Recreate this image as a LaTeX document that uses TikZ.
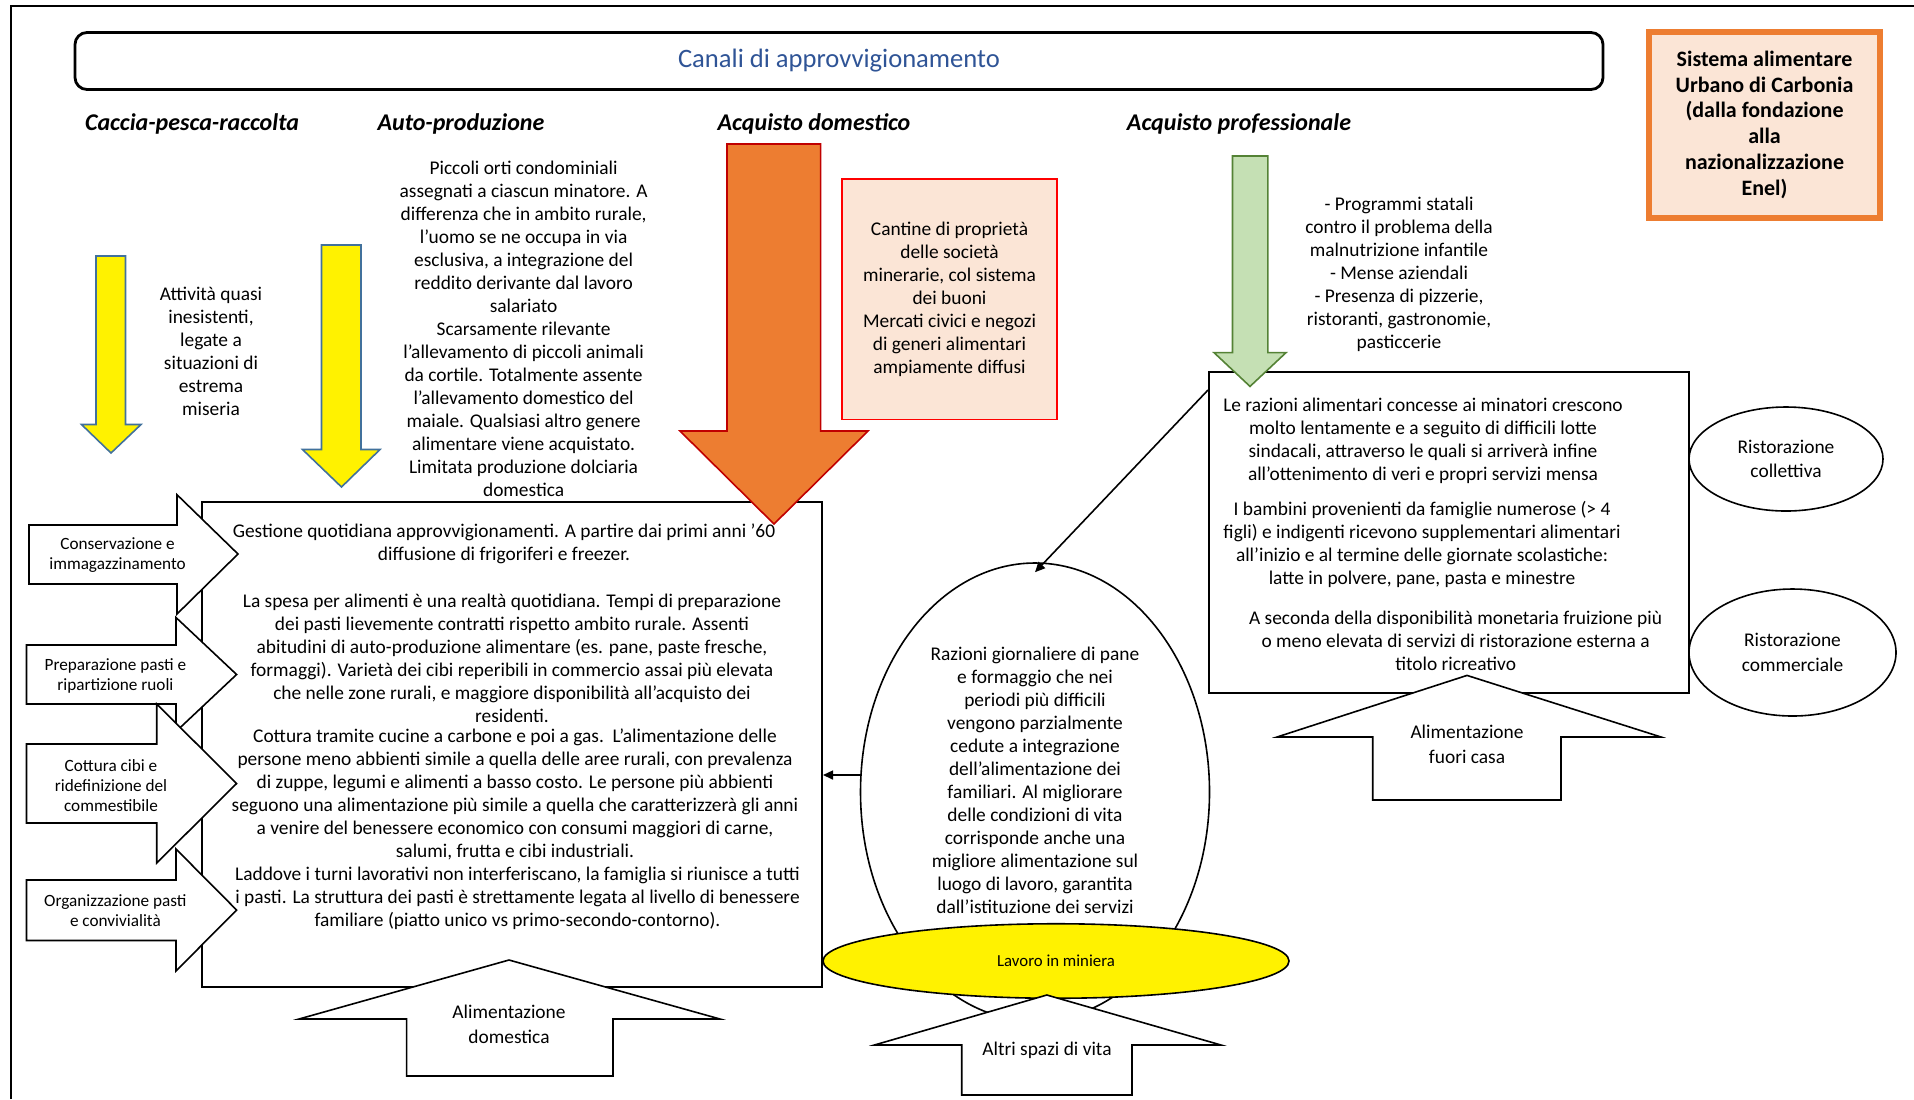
\documentclass[tikz,border=0pt]{standalone}
\usepackage{fontspec}
\setmainfont{Carlito}
\usetikzlibrary{shapes.geometric,arrows.meta}

\definecolor{titleblue}{RGB}{47,84,150}
\definecolor{yellowedge}{RGB}{65,113,156}
\definecolor{orangefill}{RGB}{237,125,49}
\definecolor{orangeedge}{RGB}{192,0,0}
\definecolor{pinkfill}{RGB}{251,229,214}
\definecolor{greenfill}{RGB}{197,224,180}
\definecolor{greenedge}{RGB}{84,130,53}

\begin{document}
\begin{tikzpicture}[x=0.5pt,y=-0.5pt,>={Triangle[length=5pt,width=4.5pt]},
  txt/.style={align=center,inner sep=0pt,font=\fontsize{9.7}{11.5}\selectfont},
  smalltxt/.style={align=center,inner sep=0pt,font=\fontsize{8.6}{10}\selectfont},
  bigtxt/.style={align=center,inner sep=0pt,font=\fontsize{9.7}{12.4}\selectfont},
  heading/.style={inner sep=0pt,font=\fontsize{12}{14}\selectfont\bfseries\itshape},
  yarrow/.style={draw=yellowedge,fill=yellow,line width=0.8pt},
  block/.style={draw=black,fill=white,line width=0.8pt},
  oval/.style={shape=ellipse,draw=black,fill=white,line width=0.8pt,inner sep=0pt}]

\useasboundingbox (0,0) rectangle (1914,1099);
\draw[line width=0.8pt] (11,1099) -- (11,6) -- (1914,6);

\node[draw=black,line width=1.4pt,rounded corners=6pt,minimum width=764pt,minimum height=28.5pt,text=titleblue,font=\fontsize{13.3}{15}\selectfont] (CA) at (839,61) {Canali di approvvigionamento};

\node[heading] (CP) at (192,124) {Caccia-pesca-raccolta};
\node[heading] (AP) at (461,124) {Auto-produzione};
\node[heading] (AD) at (814,124) {Acquisto domestico};
\node[heading] (APR) at (1239,124) {Acquisto professionale};

\node[draw=orangefill,fill=pinkfill,line width=3pt,minimum width=115.5pt,minimum height=92.75pt,align=center,font=\fontsize{11}{12.9}\selectfont\bfseries] (SA) at (1764.5,124.75) {Sistema alimentare\\Urbano di Carbonia\\(dalla fondazione\\alla\\nazionalizzazione\\Enel)};

% caccia / auto-produzione
\draw[yarrow] (96,256) -- (125.5,256) -- (125.5,424.5) -- (141,424.5) -- (111,453) -- (81.5,424.5) -- (96,424.5) -- cycle;
\node[txt] (CPt) at (211,351) {Attività quasi\\inesistenti,\\legate a\\situazioni di\\estrema\\miseria};
\draw[yarrow] (321.5,245) -- (361,245) -- (361,449.5) -- (380,449.5) -- (341.5,487) -- (302.5,449.5) -- (321.5,449.5) -- cycle;
\node[txt] (APt) at (523.6,329.3) {Piccoli orti condominiali\\assegnati a ciascun minatore. A\\differenza che in ambito rurale,\\l’uomo se ne occupa in via\\esclusiva, a integrazione del\\reddito derivante dal lavoro\\salariato\\Scarsamente rilevante\\l’allevamento di piccoli animali\\da cortile. Totalmente assente\\l’allevamento domestico del\\maiale. Qualsiasi altro genere\\alimentare viene acquistato.\\Limitata produzione dolciaria\\domestica};

% alimentazione domestica
\node[draw=black,line width=1pt,minimum width=310pt,minimum height=242.5pt] (MB) at (512,744.5) {};
\draw[draw=orangeedge,fill=orangefill,line width=0.8pt] (727,144) -- (820.6,144) -- (820.6,431) -- (868,431) -- (774,524) -- (680,431) -- (727,431) -- cycle;
\node[draw=red,fill=pinkfill,line width=0.8pt,minimum width=107.5pt,minimum height=120.3pt,txt] (CN) at (949.5,299.3) {Cantine di proprietà\\delle società\\minerarie, col sistema\\dei buoni\\Mercati civici e negozi\\di generi alimentari\\ampiamente diffusi};

\draw[block] (29,525) -- (177,525) -- (177,494.7) -- (238,554) -- (177,614) -- (177,584) -- (29,584) -- cycle;
\draw[block] (26.5,645) -- (176,645) -- (176,617.5) -- (236.6,674.5) -- (176,731.5) -- (176,704) -- (26.5,704) -- cycle;
\draw[block] (26.5,744) -- (156.7,744) -- (156.7,704) -- (236.6,783.5) -- (156.7,863) -- (156.7,823) -- (26.5,823) -- cycle;
\draw[block] (26.5,880) -- (176,880) -- (176,849) -- (236.6,910) -- (176,971) -- (176,940.5) -- (26.5,940.5) -- cycle;
\node[smalltxt] (CO) at (117.5,554.7) {Conservazione e\\immagazzinamento};
\node[smalltxt] (PR) at (115.4,676.4) {Preparazione pasti e\\ripartizione ruoli};
\node[smalltxt] (CT) at (111,785.8) {Cottura cibi e\\ridefinizione del\\commestibile};
\node[smalltxt] (OR) at (115.4,911) {Organizzazione pasti\\e convivialità};

\draw[block] (406.6,1076) -- (406.6,1019) -- (299,1019) -- (509,960) -- (720,1019) -- (613,1019) -- (613,1076) -- cycle;
\node[bigtxt] (ADt) at (509,1024) {Alimentazione\\domestica};

\node[txt] (MB1) at (504,543.9) {Gestione quotidiana approvvigionamenti. A partire dai primi anni ’60\\diffusione di frigoriferi e freezer.};
\node[txt] (MB2) at (512,658.7) {La spesa per alimenti è una realtà quotidiana. Tempi di preparazione\\dei pasti lievemente contratti rispetto ambito rurale. Assenti\\abitudini di auto-produzione alimentare (es. pane, paste fresche,\\formaggi). Varietà dei cibi reperibili in commercio assai più elevata\\che nelle zone rurali, e maggiore disponibilità all’acquisto dei\\residenti.};
\node[txt] (MB3) at (515,794.5) {Cottura tramite cucine a carbone e poi a gas.\ \ L’alimentazione delle\\persone meno abbienti simile a quella delle aree rurali, con prevalenza\\di zuppe, legumi e alimenti a basso costo. Le persone più abbienti\\seguono una alimentazione più simile a quella che caratterizzerà gli anni\\a venire del benessere economico con consumi maggiori di carne,\\salumi, frutta e cibi industriali.};
\node[txt] (MB4) at (517.5,898.5) {Laddove i turni lavorativi non interferiscano, la famiglia si riunisce a tutti\\i pasti. La struttura dei pasti è strettamente legata al livello di benessere\\familiare (piatto unico vs primo-secondo-contorno).};

% acquisto professionale
\node[draw=black,line width=1pt,minimum width=240pt,minimum height=160.5pt] (RB) at (1449,532.5) {};
\draw[draw=greenedge,fill=greenfill,line width=0.8pt] (1232.5,156) -- (1267.8,156) -- (1267.8,352.6) -- (1286,352.6) -- (1250,386.4) -- (1214,352.6) -- (1232.5,352.6) -- cycle;
\node[txt] (APRt) at (1399,274) {- Programmi statali\\contro il problema della\\malnutrizione infantile\\- Mense aziendali\\- Presenza di pizzerie,\\ristoranti, gastronomie,\\pasticcerie};
\node[txt] (RB1) at (1423,440.8) {Le razioni alimentari concesse ai minatori crescono\\molto lentamente e a seguito di difficili lotte\\sindacali, attraverso le quali si arriverà infine\\all’ottenimento di veri e propri servizi mensa};
\node[txt] (RB2) at (1422,544.7) {I bambini provenienti da famiglie numerose (> 4\\figli) e indigenti ricevono supplementari alimentari\\all’inizio e al termine delle giornate scolastiche:\\latte in polvere, pane, pasta e minestre};
\node[txt] (RB3) at (1455.6,641) {A seconda della disponibilità monetaria fruizione più\\o meno elevata di servizi di ristorazione esterna a\\titolo ricreativo};

\node[oval,align=center,font=\fontsize{9.7}{12.3}\selectfont,minimum width=97pt,minimum height=52pt] (RC) at (1786,459) {Ristorazione\\collettiva};
\node[oval,align=center,font=\fontsize{9.7}{12.3}\selectfont,minimum width=103.5pt,minimum height=63.5pt] (RCM) at (1792.5,652.5) {Ristorazione\\commerciale};

\draw[block] (1372.7,800) -- (1372.7,737) -- (1277,737) -- (1467,675.4) -- (1661,737) -- (1561,737) -- (1561,800) -- cycle;
\node[bigtxt] (FCt) at (1467,744.5) {Alimentazione\\fuori casa};

% lavoro in miniera
\node[oval,txt,minimum width=174.5pt,minimum height=229pt] (RZ) at (1035,792) {Razioni giornaliere di pane\\e formaggio che nei\\periodi più difficili\\vengono parzialmente\\cedute a integrazione\\dell’alimentazione dei\\familiari. Al migliorare\\delle condizioni di vita\\corrisponde anche una\\migliore alimentazione sul\\luogo di lavoro, garantita\\dall’istituzione dei servizi\\mensa};
\node[oval,fill=yellow,font=\fontsize{8.4}{10}\selectfont,minimum width=233pt,minimum height=37.25pt] (LM) at (1056,961) {Lavoro in miniera};
\draw[block] (961.7,1095) -- (961.7,1045) -- (874.4,1045) -- (1046.8,995) -- (1221,1045) -- (1132,1045) -- (1132,1095) -- cycle;
\node[bigtxt] (ASt) at (1047,1050) {Altri spazi di vita};

\path [->,line width=0.8pt] ([yshift=-9.5pt]RB.north west) edge ([yshift=-5pt]RZ.north);
\path [->,line width=0.8pt] ([yshift=8.5pt]RZ.west) edge ([yshift=8.5pt]RZ.west -| MB.east);

\end{tikzpicture}
\end{document}
